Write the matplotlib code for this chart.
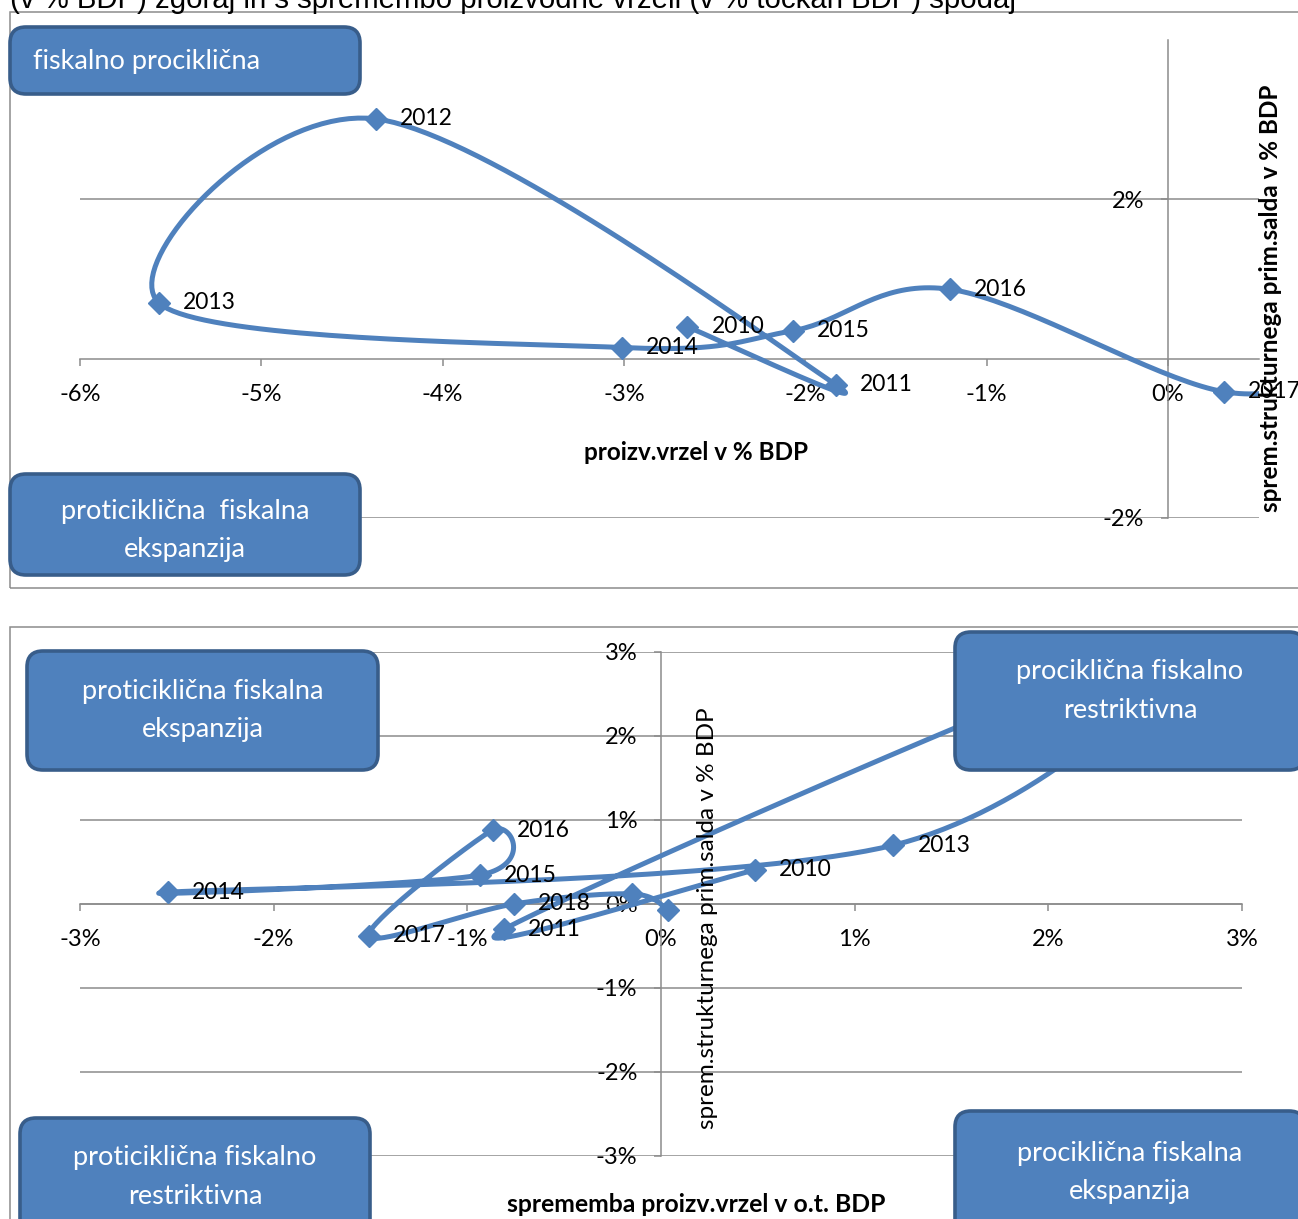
import matplotlib
matplotlib.use("Agg")
import matplotlib.pyplot as plt
import numpy as np
from matplotlib.patches import FancyBboxPatch, Rectangle
from matplotlib.transforms import IdentityTransform
from matplotlib.ticker import FuncFormatter

W, H = 1298, 1219
BLUE = "#4F81BD"
DARK_BLUE = "#385D8A"
GRAY = "#8C8C8C"
FONT = "Lato"

# leta (2019 in 2020 sta brez oznake)
years = ["2010", "2011", "2012", "2013", "2014", "2015", "2016", "2017", "2018", "2019", "2020"]
labelled = ["2010", "2011", "2012", "2013", "2014", "2015", "2016", "2017", "2018"]

# zgoraj: proizvodna vrzel in sprememba strukturnega primarnega salda (v % BDP)
output_gap = [-2.65, -1.83, -4.37, -5.565, -3.01, -2.07, -1.20, 0.31, 1.07, 1.22, 1.185]
balance_top = [0.40, -0.33, 3.01, 0.70, 0.14, 0.35, 0.87, -0.415, 0.0, 0.12, -0.07]

# spodaj: sprememba proizvodne vrzeli (o.t. BDP) in sprememba salda
gap_change = [0.485, -0.81, 2.54, 1.20, -2.545, -0.935, -0.87, -1.51, -0.76, -0.15, 0.035]
balance_bottom = [0.405, -0.30, 3.01, 0.70, 0.14, 0.345, 0.88, -0.38, 0.0, 0.12, -0.07]

top_xticks = [-6, -5, -4, -3, -2, -1, 0]
top_yticks = [-2, 2]
bottom_xticks = [-3, -2, -1, 0, 1, 2, 3]
bottom_yticks = [-3, -2, -1, 0, 1, 2, 3]


def pct(v, _):
    return f"{v:.0f}%"


def px_axes(fig, left, top, right, bottom):
    # pixel box (origin top-left) -> axes
    return fig.add_axes([left / W, 1 - bottom / H, (right - left) / W, (bottom - top) / H])


def style_axes(ax, xlim, ylim, xticks, yticks):
    ax.set_xlim(*xlim)
    ax.set_ylim(*ylim)
    ax.patch.set_visible(False)
    for s in ("top", "right"):
        ax.spines[s].set_visible(False)
    for s in ("left", "bottom"):
        ax.spines[s].set_position(("data", 0))
        ax.spines[s].set_color(GRAY)
        ax.spines[s].set_linewidth(1.1)
    ax.set_xticks(xticks)
    ax.set_yticks(yticks)
    ax.xaxis.set_major_formatter(FuncFormatter(pct))
    ax.yaxis.set_major_formatter(FuncFormatter(pct))
    ax.tick_params(color=GRAY, labelcolor="black", length=5, width=1.1, labelsize=17)
    ax.tick_params(axis="x", pad=13)
    ax.tick_params(axis="y", pad=12)
    for lab in ax.get_xticklabels() + ax.get_yticklabels():
        lab.set_family(FONT)
    ax.grid(axis="y", color=GRAY, lw=1.1)
    ax.set_axisbelow(True)


def smooth(ax, xs, ys, steps=40):
    # Excel-like smoothed line: cubic Bezier through the points, built in pixel space
    pts = ax.transData.transform(np.column_stack([xs, ys]))
    n = len(pts)
    out = [pts[0]]
    t = np.linspace(0, 1, steps)[1:, None]
    for i in range(n - 1):
        p0, p1, p2, p3 = pts[max(i - 1, 0)], pts[i], pts[i + 1], pts[min(i + 2, n - 1)]
        c1 = p1 + (p2 - p0) / 6
        c2 = p2 - (p3 - p1) / 6
        seg = (1 - t) ** 3 * p1 + 3 * (1 - t) ** 2 * t * c1 + 3 * (1 - t) * t ** 2 * c2 + t ** 3 * p2
        out.extend(seg)
    return ax.transData.inverted().transform(np.array(out)).T


def draw_series(ax, xs, ys):
    sx, sy = smooth(ax, xs, ys)
    ax.plot(sx, sy, color=BLUE, lw=3.6, solid_capstyle="round", zorder=3)
    ax.plot(xs, ys, "D", ms=11, color=BLUE, zorder=4)
    for x, y, yr in zip(xs, ys, years):
        if yr in labelled:
            ax.annotate(yr, (x, y), xytext=(24, 0), textcoords="offset pixels",
                        va="center", ha="left", fontsize=16.5, family=FONT, zorder=5)


def add_box(fig, x0, y0, x1, y1, text, ty, tx=None, ha="center"):
    box = FancyBboxPatch((x0, H - y1), x1 - x0, y1 - y0,
                         boxstyle="round,pad=0,rounding_size=16",
                         fc=BLUE, ec=DARK_BLUE, lw=2.6,
                         transform=IdentityTransform(), zorder=10)
    fig.add_artist(box)
    if tx is None:
        tx = (x0 + x1) / 2
    fig.text(tx, H - ty, text, transform=IdentityTransform(),
             ha=ha, va="center", color="white", fontsize=19.5, family=FONT,
             linespacing=1.65, multialignment="center", zorder=11)


fig = plt.figure(figsize=(W / 100, H / 100), dpi=100)

# okvirja grafov
for (fx, fy, fw, fh) in [(10, 12, 1400, 576), (10, 627, 1400, 700)]:
    fig.add_artist(Rectangle((fx, H - fy - fh), fw, fh, fill=False, ec=GRAY, lw=1.1,
                             transform=IdentityTransform(), zorder=1))

fig.text(10, H - 8, "(v % BDP) zgoraj in s spremembo proizvodne vrzeli (v % točkah BDP) spodaj",
         transform=IdentityTransform(), family="Liberation Sans", fontsize=21.2, va="baseline")

# zgornji graf
ax1 = px_axes(fig, 80, 40, 1258.5, 518)
style_axes(ax1, (-6, 0.5), (-2, 4), top_xticks, top_yticks)
draw_series(ax1, output_gap, balance_top)
fig.text(696, H - 452, "proizv.vrzel v % BDP", transform=IdentityTransform(),
         ha="center", va="center", fontsize=17.5, fontweight="bold", family=FONT)
fig.text(1270, H - 298, "sprem.strukturnega prim.salda v % BDP", transform=IdentityTransform(),
         ha="center", va="center", rotation=90, fontsize=17.5, fontweight="bold", family=FONT)

# spodnji graf
ax2 = px_axes(fig, 80, 652, 1242, 1156)
style_axes(ax2, (-3, 3), (-3, 3), bottom_xticks, bottom_yticks)
draw_series(ax2, gap_change, balance_bottom)
fig.text(696, H - 1205, "sprememba proizv.vrzel v o.t. BDP", transform=IdentityTransform(),
         ha="center", va="center", fontsize=17.8, fontweight="bold", family=FONT)
fig.text(708, H - 918, "sprem.strukturnega prim.salda v % BDP", transform=IdentityTransform(),
         ha="center", va="center", rotation=90, fontsize=17.5, family=FONT)

# opisi kvadrantov
add_box(fig, 10, 27, 360, 94, "fiskalno prociklična", 62, tx=33, ha="left")
add_box(fig, 10, 474, 360, 575, "proticiklična  fiskalna\nekspanzija", 530)
add_box(fig, 27, 651, 378, 770, "proticiklična fiskalna\nekspanzija", 710)
add_box(fig, 955, 632, 1305, 770, "prociklična fiskalno\nrestriktivna", 691)
add_box(fig, 20, 1118, 370, 1235, "proticiklična fiskalno\nrestriktivna", 1177)
add_box(fig, 955, 1111, 1305, 1262, "prociklična fiskalna\nekspanzija", 1172)

fig.savefig("out.png", dpi=100)
